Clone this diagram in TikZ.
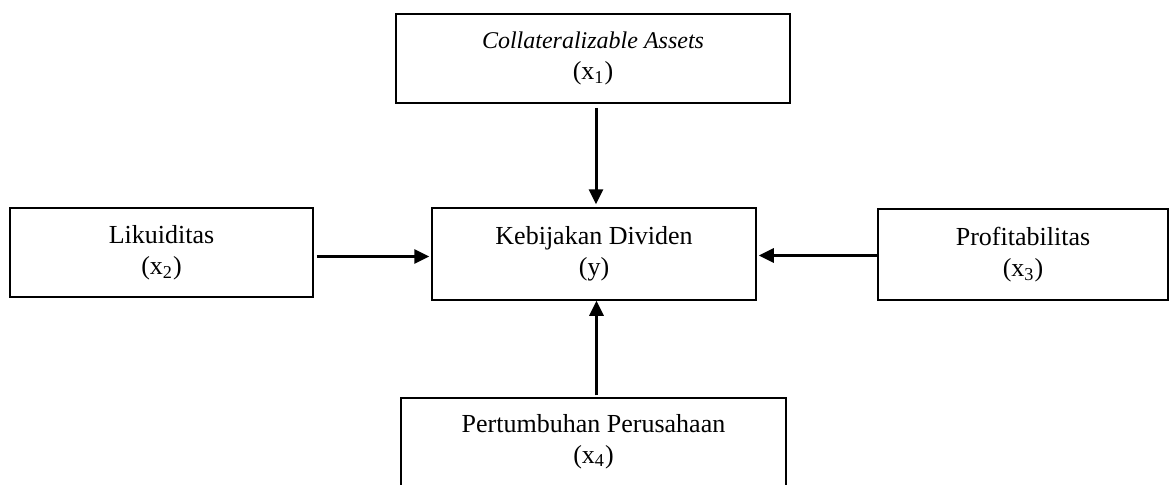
\documentclass[tikz,border=0pt]{standalone}
\usepackage{fontspec}
\setmainfont{Liberation Serif}
\usetikzlibrary{arrows.meta}
\tikzset{
  box/.style={draw, line width=0.75pt, rectangle, align=center, inner sep=0pt,
    font=\fontsize{13}{15.5}\selectfont},
  arr/.style={line width=1.5pt, -{Triangle[length=7.5pt,width=7pt]}}
}
\begin{document}
\begin{tikzpicture}[x=0.5pt,y=-0.5pt]
\useasboundingbox (0,0) rectangle (1170,484);
\node[box, minimum width=197pt, minimum height=44.5pt] (top) at (593,58.5)
  {{\fontsize{12}{15.5}\selectfont\textit{Collateralizable Assets}}\\(x\textsubscript{1})};
\node[box, minimum width=162pt, minimum height=46pt] (mid) at (594,254)
  {Kebijakan Dividen\\(y)};
\node[box, minimum width=151.5pt, minimum height=44.5pt] (left) at (161.5,252.5)
  {Likuiditas\\(x\textsubscript{2})};
\node[box, minimum width=145pt, minimum height=45.5pt] (right) at (1023,254.5)
  {Profitabilitas\\(x\textsubscript{3})};
\node[box, minimum width=192.5pt, minimum height=50pt] (bot) at (593.5,448)
  {Pertumbuhan Perusahaan\\(x\textsubscript{4})\\[-6pt]\mbox{}};
\draw[arr, shorten <=2pt, shorten >=1.5pt] ([xshift=1.5pt]top.south) -- ([xshift=1.5pt]top.south |- mid.north);
\draw[arr, shorten <=1.5pt, shorten >=1pt] ([yshift=-2pt]left.east) -- ([yshift=-2pt]left.east -| mid.west);
\draw[arr, shorten >=1pt] ([yshift=-0.5pt]right.west) -- ([yshift=-0.5pt]right.west -| mid.east);
\draw[arr, shorten <=1pt] ([xshift=1.5pt]bot.north) -- ([xshift=1.5pt]bot.north |- mid.south);
\end{tikzpicture}
\end{document}
